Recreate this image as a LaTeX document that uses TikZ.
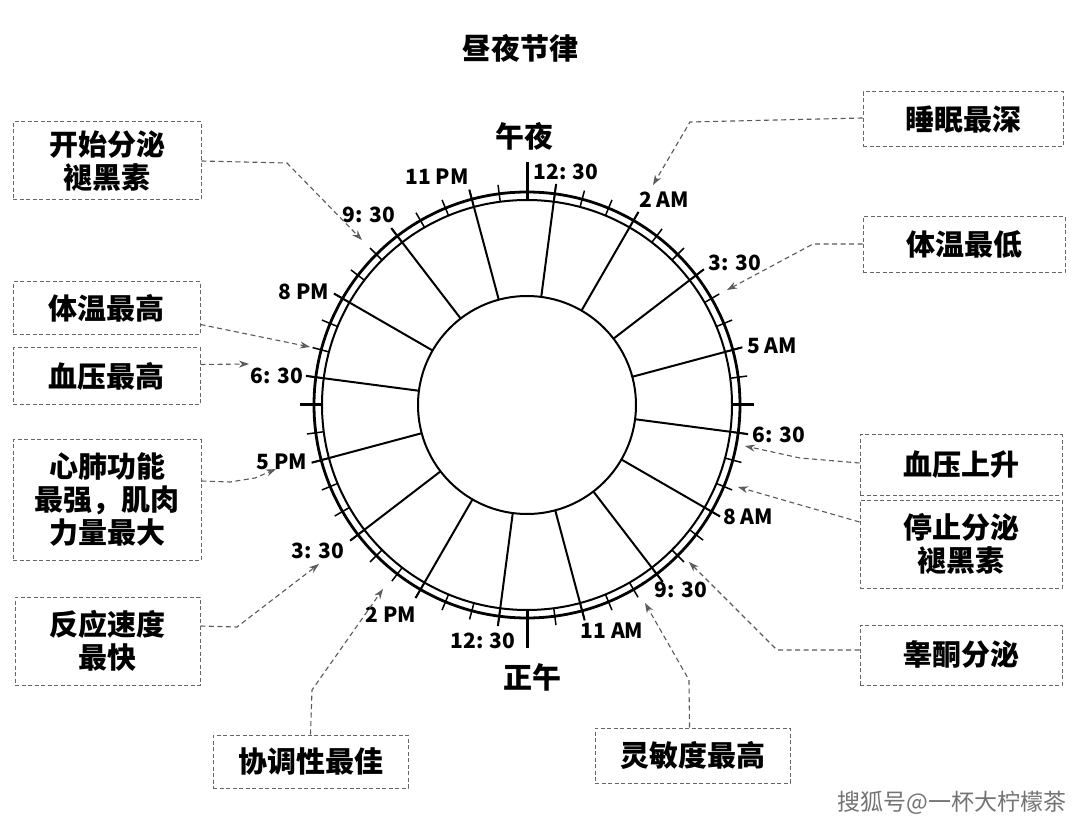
\documentclass[tikz,border=0pt]{standalone}
\usepackage{fontspec}
\setmainfont{Noto Sans CJK SC}
\usetikzlibrary{calc,arrows.meta}
\begin{document}
\begin{tikzpicture}[x=1pt,y=-1pt,
  ringline/.style={line width=2pt,black},
  spoke/.style={line width=2pt,black},
  smalltick/.style={line width=1.5pt,black},
  bigtick/.style={line width=3pt,black},
  lab/.style={font=\fontsize{21}{21}\selectfont\bfseries,inner sep=0pt},
  bigtxt/.style={font=\fontsize{29}{29}\selectfont\bfseries,inner sep=0pt},
  box/.style={draw=black!60,line width=1pt,dash pattern=on 4pt off 2.5pt,
    font=\fontsize{29}{33}\selectfont\bfseries,align=center,inner sep=0pt},
  conn/.style={draw=black!65,line width=1.1pt,dash pattern=on 5pt off 3.5pt,
    -{Stealth[length=10pt,width=7pt,fill=black!55]}}
]
\useasboundingbox[fill=white] (0,0) rectangle (1080,826);
\coordinate (c) at (527,405);
% title
\node[bigtxt] (title) at (520,48) {昼夜节律};
% rings
\draw[line width=2.8pt] (c) circle[radius=213pt];
\draw[ringline] (c) circle[radius=205pt];
\draw[ringline] (c) circle[radius=109pt];
% small ticks every half hour
\foreach \i in {0,...,47}{
  \draw[smalltick] ($(c)+({-90+7.5*\i}:205)$) -- ($(c)+({-90+7.5*\i}:222)$);
}
% spokes
\foreach \k in {0,...,15}{
  \draw[spoke] ($(c)+({-82.5+22.5*\k}:109)$) -- ($(c)+({-82.5+22.5*\k}:223)$);
}
% big ticks
\draw[bigtick] ($(c)+(-90:204)$) -- ($(c)+(-90:243)$);
\draw[bigtick] ($(c)+(90:204)$) -- ($(c)+(90:243)$);
\draw[bigtick] ($(c)+(0:205)$) -- ($(c)+(0:227)$);
\draw[bigtick] ($(c)+(180:205)$) -- ($(c)+(180:227)$);
% hour labels
\node[bigtxt] (midnight) at (524,136) {午夜};
\node[bigtxt] (noon) at (532,677) {正午};
\node[lab] (t0030) at (566,172) {12: 30};
\node[lab] (t0200) at (664,200) {2 AM};
\node[lab] (t0330) at (735,263) {3: 30};
\node[lab] (t0500) at (772,346) {5 AM};
\node[lab] (t0630) at (779,435) {6: 30};
\node[lab] (t0800) at (748,517) {8 AM};
\node[lab] (t0930) at (681,590) {9: 30};
\node[lab] (t1100) at (612,631) {11 AM};
\node[lab] (t1230) at (483,641) {12: 30};
\node[lab] (t1400) at (391,615) {2 PM};
\node[lab] (t1530) at (318,551) {3: 30};
\node[lab] (t1700) at (282,462) {5 PM};
\node[lab] (t1830) at (277,376) {6: 30};
\node[lab] (t2000) at (304,292) {8 PM};
\node[lab] (t2130) at (369,215) {9: 30};
\node[lab] (t2300) at (437,177) {11 PM};
% boxes
\node[box,minimum width=188pt,minimum height=78pt] (b1) at (107,161) {开始分泌\\褪黑素};
\node[box,minimum width=187pt,minimum height=53pt] (b2) at (106.5,308.5) {体温最高};
\node[box,minimum width=187pt,minimum height=57pt] (b3) at (106.5,376.5) {血压最高};
\node[box,minimum width=188pt,minimum height=120pt] (b4) at (107,500) {心肺功能\\最强，肌肉\\力量最大};
\node[box,minimum width=185pt,minimum height=88pt] (b5) at (107.5,641) {反应速度\\最快};
\node[box,minimum width=195pt,minimum height=53pt] (b6) at (310.5,761.5) {协调性最佳};
\node[box,minimum width=195pt,minimum height=55pt] (b7) at (692.5,755.5) {灵敏度最高};
\node[box,minimum width=202pt,minimum height=60pt] (b8) at (961,655) {睾酮分泌};
\node[box,minimum width=202pt,minimum height=88pt] (b9) at (961,544) {停止分泌\\褪黑素};
\node[box,minimum width=202pt,minimum height=60pt] (b10) at (961,465) {血压上升};
\node[box,minimum width=202pt,minimum height=56pt] (b11) at (964,245) {体温最低};
\node[box,minimum width=200pt,minimum height=55pt] (b12) at (963,119.5) {睡眠最深};
% arrow targets
\coordinate (a1) at (362,240);
\coordinate (a2) at (310,347);
\coordinate (a3) at (249,364);
\coordinate (a4) at (276,469);
\coordinate (a5) at (319,564);
\coordinate (a6) at (383,589);
\coordinate (a7) at (645,603);
\coordinate (a8) at (689,562);
\coordinate (a9) at (738,487);
\coordinate (a10) at (745,446);
\coordinate (a11) at (727,290);
\coordinate (a12) at (653,185);
% connectors
\draw[conn] (b1.east) -- (287,163) -- (a1);
\draw[conn] ($(b2.east)+(0,16)$) -- (a2);
\draw[conn] ($(b3.east)+(0,-12)$) -- (a3);
\draw[conn] ($(b4.east)+(0,-19)$) -- (230,482) -- (255,478) -- (a4);
\draw[conn] ($(b5.east)+(0,-15)$) -- (237,627) -- (a5);
\draw[conn] (b6.north) -- (312,690) -- (a6);
\draw[conn] ($(b7.north)+(-3,0)$) -- (689,680) -- (a7);
\draw[conn] ($(b8.west)+(0,-5)$) -- (777,650) -- (a8);
\draw[conn] ($(b9.west)+(0,-22)$) -- (a9);
\draw[conn] ($(b10.west)+(0,-2)$) -- (800,458) -- (a10);
\draw[conn] ($(b11.west)+(0,-1)$) -- (813,244) -- (a11);
\draw[conn] ($(b12.west)+(0,-1.5)$) -- (690,122) -- (a12);
% watermark
\node[font=\fontsize{23}{23}\selectfont,text=black!55,inner sep=0pt] (wm) at (952,803) {搜狐号@一杯大柠檬茶};
\end{tikzpicture}
\end{document}
